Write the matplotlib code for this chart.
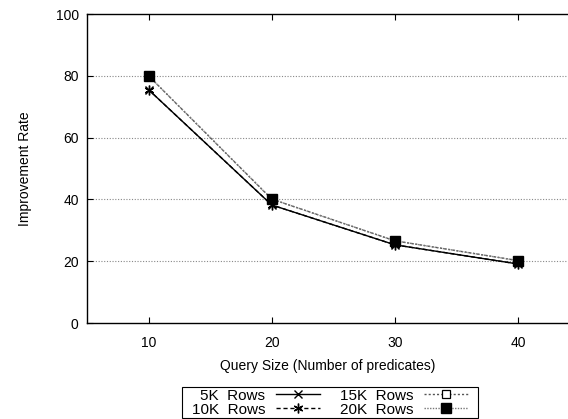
import matplotlib.pyplot as plt
from matplotlib.patches import Rectangle

plt.rcParams['font.family'] = ['Liberation Sans', 'DejaVu Sans']

query_sizes = [10, 20, 30, 40]
rows_5k = [75.5, 38.2, 25.3, 19.1]
rows_10k = [75.5, 38.2, 25.3, 19.1]
rows_15k = [80.0, 40.1, 26.6, 20.2]
rows_20k = [80.0, 40.1, 26.6, 20.2]
y_ticks = [0, 20, 40, 60, 80, 100]

fig = plt.figure(figsize=(5.68, 4.19), dpi=100)
# plot area runs off the right edge of the image
ax = fig.add_axes([87 / 568, 1 - 323 / 419, 481 / 568, 309 / 419])

for y in y_ticks[1:-1]:
    ax.axhline(y, color='#888888', lw=0.8, ls=(0, (1, 1.5)), zorder=0)

ax.plot(query_sizes, rows_5k, color='black', lw=1.0, marker='x', ms=6,
        mew=1.0, label='5K  Rows')
ax.plot(query_sizes, rows_10k, color='black', lw=1.0, ls=(0, (3, 2)),
        marker=(6, 2, 0), ms=7, mew=1.0, label='10K  Rows')
ax.plot(query_sizes, rows_15k, color='#555555', lw=1.0, ls=(0, (1.5, 1.5)),
        marker='s', ms=6, mfc='white', mec='black', mew=0.9, label='15K  Rows')
ax.plot(query_sizes, rows_20k, color='#777777', lw=1.0, ls=(0, (1, 1)),
        marker='s', ms=7, mfc='black', mec='black', label='20K  Rows')
# small dot inside the open squares
ax.plot(query_sizes, rows_15k, ls='none', marker='.', ms=2, color='black')

ax.set_xlim(5, 44.06)
ax.set_ylim(0, 100)
ax.set_xticks(query_sizes)
ax.set_yticks(y_ticks)
ax.tick_params(direction='in', length=4, labelsize=10, width=0.8, top=True)
ax.tick_params(axis='x', pad=9)
ax.tick_params(axis='y', pad=6)
ax.set_xlabel('Query Size (Number of predicates)', fontsize=10, labelpad=7)
ax.set_ylabel('Improvement Rate', fontsize=10, labelpad=17)
ax.spines['right'].set_visible(False)
for s in ax.spines.values():
    s.set_linewidth(1.0)

leg = ax.legend(loc='upper left', bbox_to_anchor=(190 / 568, 1 - 387 / 419),
                bbox_transform=fig.transFigure, ncol=2, markerfirst=False,
                frameon=False, fontsize=11,
                handlelength=2.9, handletextpad=0.7, columnspacing=1.3,
                labelspacing=0.0, borderpad=0.1, borderaxespad=0)
for t in leg.get_texts():
    t.set_ha('right')

# key box: wider side margins than the legend's own padding allows
fig.canvas.draw()
bb = leg.get_window_extent()
fig.add_artist(Rectangle((bb.x0 - 8, bb.y0), bb.width + 16, bb.height,
                         transform=None, fill=False, ec='black', lw=0.8))

fig.savefig('out.png', dpi=100)
